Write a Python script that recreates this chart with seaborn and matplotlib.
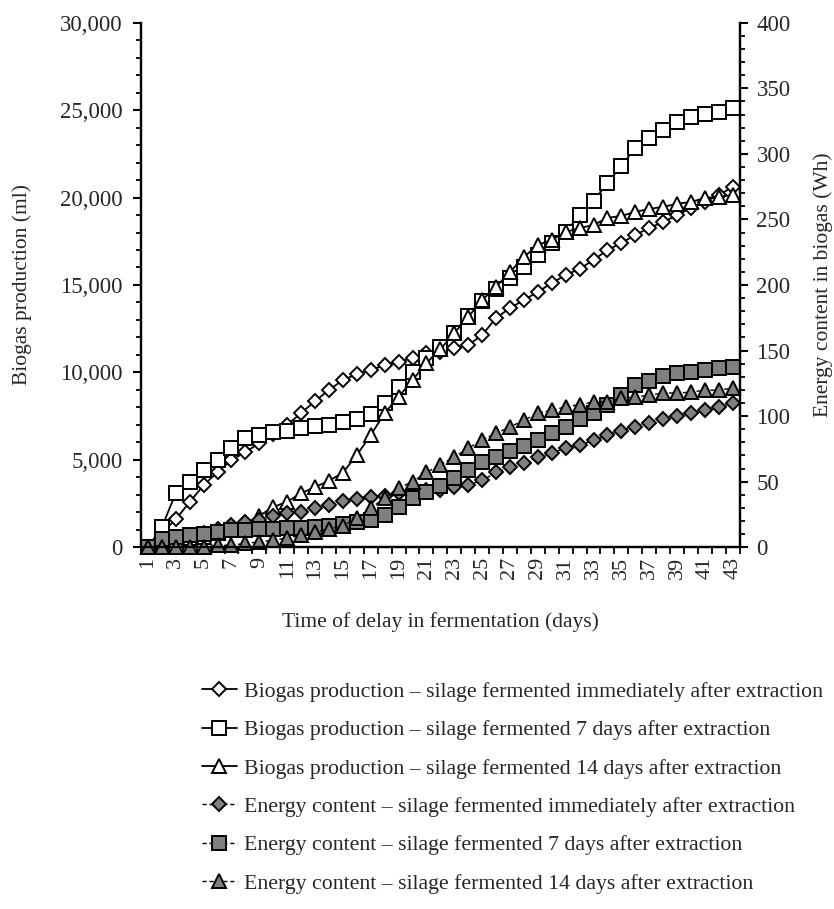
import matplotlib
matplotlib.use("Agg")
import matplotlib.pyplot as plt
import seaborn as sns
from matplotlib.ticker import FixedLocator, MultipleLocator, FuncFormatter

days = list(range(1, 44))

# biogas production (ml), left axis
biogas_immediate = [0, 800, 1600, 2580, 3550, 4300, 4980, 5440, 5950, 6470, 7000,
                    7670, 8360, 8990, 9560, 9900, 10130, 10420, 10590, 10820, 11100,
                    11160, 11390, 11560, 12140, 13110, 13680, 14140, 14600, 15110, 15570,
                    15920, 16430, 17000, 17400, 17860, 18260, 18600, 19000, 19400, 19750,
                    20150, 20600]
biogas_7d = [0, 1150, 3090, 3720, 4400, 4980, 5670, 6240, 6410, 6580, 6660,
             6810, 6930, 6990, 7160, 7330, 7610, 8240, 9160, 10020, 10820,
             11450, 12250, 13220, 14080, 14770, 15400, 16030, 16720, 17400, 18030,
             19000, 19800, 20840, 21810, 22840, 23420, 23870, 24330, 24620, 24790,
             24900, 25130]
biogas_14d = [0, 300, 400, 500, 600, 800, 1000, 1300, 1800, 2300, 2600,
              3090, 3440, 3800, 4260, 5270, 6410, 7670, 8590, 9560, 10530,
              11330, 12250, 13170, 14140, 14890, 15740, 16600, 17290, 17580, 18030,
              18260, 18430, 18840, 18950, 19180, 19350, 19470, 19640, 19750, 19980,
              20040, 20150]

# energy content (Wh), right axis
energy_immediate = [0, 3, 6, 9, 11, 14, 17, 19, 21, 24, 26,
                    27, 30, 32, 35, 37, 38, 39, 41, 43, 43.5,
                    44, 46, 47.5, 51, 57, 61, 64, 68.5, 72, 75.5,
                    78, 81.5, 85.5, 89, 92, 95, 98, 100, 102.5, 105,
                    107, 110]
energy_7d = [0, 6.6, 7.9, 9.2, 10.4, 11.7, 13, 13.5, 13.7, 13.7, 14.3,
             15, 15.5, 16, 17.5, 19, 20.6, 24.4, 30.5, 37.4, 42,
             47, 52.7, 58.8, 65, 68.7, 73, 77.5, 81.7, 87, 91.6,
             98, 102, 108.4, 116, 123.7, 126.5, 130.5, 132.8, 133.6, 135,
             136.6, 137.4]
energy_14d = [0, 0, 0, 0, 0, 1.5, 1.5, 3, 4, 5.3, 7,
              9, 11.5, 14, 16.5, 22, 29.8, 37.4, 45, 50, 57,
              63, 68.7, 75.6, 81.7, 87, 91.6, 97, 102, 104.6, 107,
              108.8, 110.7, 110.7, 113.7, 114.5, 116, 117.6, 117.6, 118.3, 119.8,
              119.8, 121.4]

labels = [
    "Biogas production \u2013 silage fermented immediately after extraction",
    "Biogas production \u2013 silage fermented 7 days after extraction",
    "Biogas production \u2013 silage fermented 14 days after extraction",
    "Energy content \u2013 silage fermented immediately after extraction",
    "Energy content \u2013 silage fermented 7 days after extraction",
    "Energy content \u2013 silage fermented 14 days after extraction",
]

sns.set_style("ticks")
plt.rcParams['font.family'] = ['Liberation Serif', 'DejaVu Serif']

fig = plt.figure(figsize=(8.34, 9.09), dpi=100)
ax = fig.add_axes([0.169, 0.398, 0.718, 0.577])
ax2 = ax.twinx()

grey = "#808080"
dash = (0, (3, 2))

sns.lineplot(x=days, y=biogas_immediate, ax=ax, color="black", lw=1.3, marker="D",
             ms=7, mfc="white", mec="black", mew=1.4, label=labels[0], clip_on=False)
sns.lineplot(x=days, y=biogas_7d, ax=ax, color="black", lw=1.3, marker="s",
             ms=10.5, mfc="white", mec="black", mew=1.4, label=labels[1], clip_on=False)
sns.lineplot(x=days, y=biogas_14d, ax=ax, color="black", lw=1.3, marker="^",
             ms=10.5, mfc="white", mec="black", mew=1.4, label=labels[2], clip_on=False)

sns.lineplot(x=days, y=energy_immediate, ax=ax2, color="black", lw=1.0, ls=dash, marker="D",
             ms=7, mfc=grey, mec="black", mew=1.4, label=labels[3], clip_on=False)
sns.lineplot(x=days, y=energy_7d, ax=ax2, color="black", lw=1.0, ls=dash, marker="s",
             ms=10.5, mfc=grey, mec="black", mew=1.4, label=labels[4], clip_on=False)
sns.lineplot(x=days, y=energy_14d, ax=ax2, color="black", lw=1.0, ls=dash, marker="^",
             ms=10.5, mfc=grey, mec="black", mew=1.4, label=labels[5], clip_on=False)

h1, l1 = ax.get_legend_handles_labels()
h2, l2 = ax2.get_legend_handles_labels()
ax.get_legend().remove()
ax2.get_legend().remove()

ax.set_xlim(0.5, 43.5)
ax.set_ylim(0, 30000)
ax2.set_ylim(0, 400)

ax.xaxis.set_major_locator(FixedLocator(days[::2]))
ax.xaxis.set_minor_locator(FixedLocator([d - 0.5 for d in days] + [43.5]))
ax.tick_params(axis="x", which="major", length=0, labelsize=16, rotation=90, pad=7)
ax.tick_params(axis="x", which="minor", length=5, width=1.3, color="black")

ax.yaxis.set_major_locator(MultipleLocator(5000))
ax.yaxis.set_minor_locator(MultipleLocator(1000))
ax.yaxis.set_major_formatter(FuncFormatter(lambda v, p: f"{v:,.0f}"))
ax.tick_params(axis="y", which="major", length=6, width=1.5, labelsize=16.5,
               color="black", pad=7)
ax.tick_params(axis="y", which="minor", length=3.5, width=1.3, color="black")

ax2.yaxis.set_major_locator(MultipleLocator(50))
ax2.yaxis.set_minor_locator(MultipleLocator(10))
ax2.tick_params(axis="y", which="major", length=6, width=1.5, labelsize=16.5,
                color="black", pad=6)
ax2.tick_params(axis="y", which="minor", length=3.5, width=1.3, color="black")

for a in (ax, ax2):
    a.spines["top"].set_visible(False)
    for s in ("left", "right", "bottom"):
        a.spines[s].set_linewidth(1.6)
        a.spines[s].set_color("black")

ax.set_xlabel("Time of delay in fermentation (days)", fontsize=15.5, labelpad=24)
ax.set_ylabel("Biogas production (ml)", fontsize=15.5, labelpad=20)
ax2.set_ylabel("Energy content in biogas (Wh)", fontsize=15.5, labelpad=16)

fig.legend(h1 + h2, l1 + l2, loc="upper left", bbox_to_anchor=(0.229, 0.262),
           frameon=False, fontsize=15.7, numpoints=1, handlelength=1.6,
           handletextpad=0.35, labelspacing=0.83, borderpad=0)

fig.savefig("out.png", dpi=100)
